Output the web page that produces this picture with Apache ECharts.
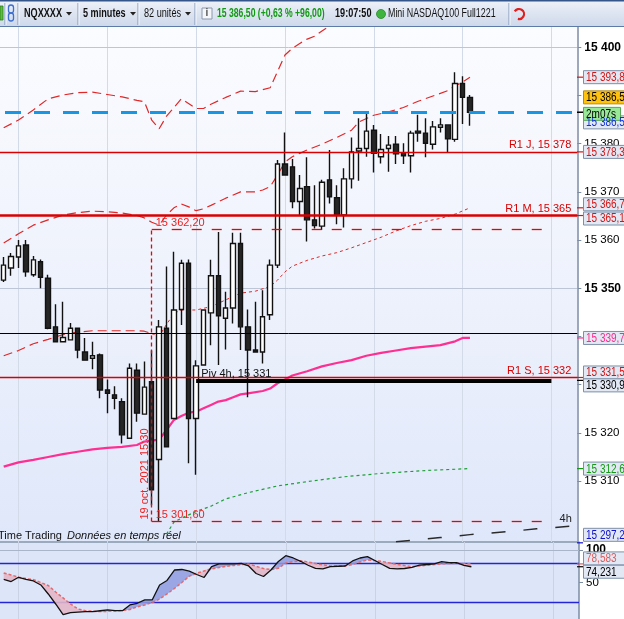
<!DOCTYPE html>
<html><head><meta charset="utf-8">
<script src="https://cdn.jsdelivr.net/npm/echarts@6/dist/echarts.min.js"></script>
<style>html,body{margin:0;padding:0;background:#fff}#c{width:624px;height:619px}</style>
</head><body><div id="c"></div>
<script>
// ---------- DATA ----------
const times = ['13:50','13:55','14:00','14:05','14:10','14:15','14:20','14:25','14:30','14:35','14:40','14:45','14:50','14:55',
 '15:00','15:05','15:10','15:15','15:20','15:25','15:30','15:35','15:40','15:45','15:50','15:55',
 '16:00','16:05','16:10','16:15','16:20','16:25','16:30','16:35','16:40','16:45','16:50','16:55',
 '17:00','17:05','17:10','17:15','17:20','17:25','17:30','17:35','17:40','17:45','17:50','17:55',
 '18:00','18:05','18:10','18:15','18:20','18:25','18:30','18:35','18:40','18:45','18:50','18:55',
 '19:00','19:05','19:10','19:15','19:20','19:25','19:30','19:35','19:40','19:45','19:50','19:55','20:00','20:05','20:10','20:15'];
const hourTicks = ['14:00','15:00','16:00','17:00','18:00','19:00','20:00'];
// [open, close, low, high]
const candles = [
 [15351.7,15354.8,15351.3,15356.5],[15354.2,15356.6,15352.6,15357.3],[15356.5,15358.8,15354.2,15360.0],[15359.0,15353.4,15352.4,15360.0],
 [15352.8,15355.9,15352.4,15356.7],[15355.5,15352.3,15350.0,15356.0],[15352.1,15341.7,15341.5,15352.8],[15342.0,15338.9,15338.9,15346.7],
 [15338.9,15339.8,15338.9,15347.2],[15339.3,15341.7,15339.3,15342.8],[15341.7,15337.2,15335.5,15341.8],[15336.8,15335.1,15335.1,15339.7],
 [15335.5,15336.0,15333.2,15338.9],[15336.2,15328.9,15327.2,15336.5],[15328.9,15328.2,15324.1,15331.1],[15327.9,15327.2,15324.9,15329.7],
 [15326.5,15319.6,15317.8,15327.2],[15318.9,15333.4,15318.9,15334.4],[15333.0,15324.1,15322.3,15334.4],[15323.9,15329.5,15323.9,15334.8],
 [15330.6,15308.2,15305.0,15337.1],[15314.5,15342.0,15301.6,15343.4],[15341.7,15317.1,15317.1,15354.5],[15323.0,15345.5,15323.0,15357.6],
 [15345.6,15355.2,15342.4,15355.9],[15355.2,15323.0,15313.7,15356.0],[15323.0,15333.9,15311.3,15335.1],[15334.1,15345.5,15334.1,15345.5],
 [15344.9,15352.6,15338.2,15355.9],[15352.6,15344.3,15334.1,15361.7],[15343.8,15345.9,15337.3,15349.3],[15345.9,15359.3,15342.7,15361.5],
 [15359.3,15342.0,15337.2,15361.5],[15342.0,15337.2,15327.4,15345.6],[15337.2,15336.8,15336.8,15347.2],[15336.8,15344.1,15334.4,15349.6],
 [15344.5,15354.8,15343.4,15356.0],[15354.8,15375.8,15354.2,15376.6],[15375.8,15373.5,15373.5,15382.3],[15375.2,15368.0,15366.6,15376.8],
 [15368.0,15370.7,15365.2,15373.5],[15371.1,15364.2,15359.7,15377.2],[15364.2,15363.0,15362.4,15371.4],[15362.9,15372.0,15362.1,15372.5],
 [15372.5,15369.0,15367.6,15378.7],[15368.8,15365.2,15363.3,15371.4],[15365.2,15372.7,15362.6,15374.9],[15372.7,15378.3,15370.7,15381.3],
 [15378.5,15379.0,15372.3,15385.3],[15379.0,15382.6,15377.3,15386.4],[15382.8,15378.0,15374.0,15383.9],[15377.3,15378.8,15375.9,15382.0],
 [15379.0,15379.7,15374.2,15381.6],[15379.9,15377.9,15375.8,15381.6],[15378.1,15377.5,15375.8,15380.1],[15377.5,15382.2,15374.0,15382.7],
 [15382.6,15382.2,15380.4,15386.0],[15382.2,15380.1,15377.2,15385.3],[15379.9,15383.5,15378.8,15384.7],[15383.4,15383.9,15382.3,15385.3],
 [15383.9,15381.0,15378.3,15383.9],[15380.9,15392.5,15380.4,15394.8],[15392.5,15389.6,15384.1,15394.0],[15389.6,15386.5,15383.7,15390.1]
];
const upperBand = [['13:50',15383.3],['14:00',15384.9],['14:10',15387.0],['14:20',15389.3],['14:30',15390.1],['14:40',15390.6],['14:50',15390.7],
 ['15:00',15390.2],['15:10',15389.7],['15:20',15389.0],['15:25',15388.7],['15:30',15384.9],['15:35',15383.1],['15:40',15385.7],['15:50',15389.3],
 ['16:00',15387.3],['16:05',15387.3],['16:10',15388.2],['16:20',15389.6],['16:30',15390.9],['16:40',15390.8],['16:50',15391.6],['16:55',15395.0],
 ['17:00',15398.4],['17:05',15399.8],['17:10',15400.8],['17:15',15401.7],['17:20',15402.3],['17:25',15403.4],['17:30',15404.4],['17:35',15405.2]];
const middleBand = [['13:50',15359.4],['14:00',15361.3],['14:10',15363.1],['14:20',15364.2],['14:30',15365.2],['14:40',15365.7],['14:50',15366.0],
 ['15:00',15365.9],['15:10',15365.6],['15:20',15365.1],['15:25',15364.6],['15:30',15363.7],['15:35',15363.1],['15:40',15365.2],['15:45',15366.7],
 ['15:50',15367.5],['15:55',15366.9],['16:00',15366.1],['16:05',15366.5],['16:10',15367.2],['16:20',15368.7],['16:30',15370.0],['16:40',15370.0],
 ['16:45',15370.4],['16:50',15371.1],['16:55',15373.5],['17:00',15376.2],['17:05',15377.3],['17:10',15378.0],['17:15',15378.7],['17:25',15379.9],
 ['17:35',15381.3],['17:45',15382.8],['17:50',15384.5],['18:00',15385.9],['18:10',15386.6],['18:20',15387.5],['18:30',15388.8],['18:40',15389.9],
 ['18:50',15391.0],['18:55',15392.0],['19:00',15392.8],['19:05',15393.8]];
const lowerBandOld = [['13:50',15336.0],['14:00',15337.1],['14:10',15338.5],['14:20',15339.4],['14:30',15340.4],['14:40',15340.9],['14:50',15341.2],
 ['15:00',15341.2],['15:10',15341.2],['15:20',15341.2],['15:25',15341.1],['15:30',15340.6]];
const lowerBandNew = [['15:30',15340.6],['15:35',15340.1],['15:40',15342.5],['15:45',15344.8],['15:50',15345.5],['16:00',15345.5],['16:10',15346.2],
 ['16:20',15347.6],['16:30',15349.0],['16:40',15349.4],['16:50',15350.4],['16:55',15351.7],['17:00',15353.4],['17:05',15354.6],['17:15',15355.8],
 ['17:25',15356.7],['17:35',15357.4],['17:45',15358.4],['17:55',15359.5],['18:05',15360.6],['18:15',15361.9],['18:25',15363.0],['18:35',15363.9],
 ['18:45',15364.5],['18:55',15365.4],['19:05',15366.7]];
const pinkMA = [['13:50',15313.0],['14:00',15313.9],['14:10',15314.4],['14:20',15315.0],['14:30',15315.6],['14:40',15316.1],['14:50',15316.6],
 ['15:00',15316.9],['15:10',15317.1],['15:20',15317.5],['15:25',15318.2],['15:30',15318.4],['15:35',15318.6],['15:40',15320.6],['15:45',15322.7],
 ['15:50',15323.5],['15:55',15324.2],['16:00',15324.4],['16:05',15325.1],['16:10',15325.8],['16:15',15326.5],['16:20',15326.8],['16:25',15327.4],
 ['16:30',15328.0],['16:35',15328.2],['16:45',15328.7],['16:50',15329.2],['16:55',15330.3],['17:00',15331.1],['17:05',15331.9],['17:15',15332.8],
 ['17:25',15333.8],['17:35',15334.5],['17:45',15335.1],['17:55',15336.0],['18:05',15336.6],['18:15',15337.1],['18:25',15337.6],['18:35',15337.9],
 ['18:45',15338.2],['18:55',15339.0],['19:00',15339.7],['19:05',15339.7]];
const greenMA = [['15:40',15299.0],['15:45',15301.5],['15:50',15302.3],['16:00',15303.7],['16:10',15304.8],['16:20',15306.3],['16:35',15307.6],
 ['16:55',15309.0],['17:15',15309.9],['17:40',15310.9],['18:05',15311.6],['18:35',15312.2],['19:05',15312.6]];
const line4h = [['18:15',15297.4],['18:45',15298.3],['19:05',15298.9],['19:30',15299.5],['19:50',15300.1],['20:15',15300.7]];
const kValues = [54.9,51.5,58.0,54.9,52.3,46.2,32.3,16.9,0.5,3.5,4.5,5.1,5.1,6.5,7.7,6.6,6.6,15.4,18.0,23.1,23.1,46.2,53.1,69.2,70.0,67.4,
 62.3,57.7,74.3,78.5,78.5,78.5,79.5,75.4,63.8,59.2,69.2,82.3,91.2,87.7,82.6,76.5,71.8,70.8,74.3,75.0,75.4,83.1,87.7,89.7,83.8,77.7,
 71.8,70.8,71.5,73.4,76.6,77.7,78.5,82.0,80.5,80.5,76.5,74.2];
const dValues = [64.6,61.5,58.2,56.0,54.3,50.0,45.4,35.4,26.2,16.9,9.2,6.6,5.8,5.2,5.6,6.3,7.0,8.5,12.6,15.4,19.2,24.6,32.3,40.8,50.0,59.7,
 64.3,67.7,70.8,73.0,74.9,76.3,77.5,78.5,74.9,71.4,70.0,71.8,80.0,82.0,83.5,81.5,79.2,77.0,75.4,75.4,75.4,77.7,81.5,84.6,83.5,82.3,
 80.0,77.7,76.0,74.5,75.5,76.5,77.5,78.8,79.2,79.5,79.0,78.6];
const levels = [{name:'R1 J', value:15378.3, width:1.3},{name:'R1 M', value:15365.1, width:2.6},{name:'R1 S', value:15331.5, width:1.3}];
const pivot = {name:'Piv 4h', value:15330.9, from:'16:00', to:'20:00'};
const box = {high:15362.2, low:15301.6, from:'15:30', to:'20:00', date:'19 oct. 2021 15:30'};
const refLevel = 15340.7;
const lastPrice = 15386.5;
const lowTag = 15297.2;
const yTicks = [15310,15320,15330,15340,15350,15360,15370,15380,15390,15400];
const indTicks = [50,100];
const indLevels = [80,20];
const lastK = 74.231, lastD = 78.583;

// ---------- HELPERS ----------
const FONT = '"Liberation Sans", Arial, sans-serif';
const sp = s => s.replace(/\B(?=(\d{3})+(?!\d))/g,' ');
const fmtDec = (v,d) => { const p = v.toFixed(d).split('.'); return sp(p[0]) + (p[1] ? ','+p[1] : ''); };
const RED = '#d80000';

const chart = echarts.init(document.getElementById('c'), null, {width:624, height:619});

const mainGridMarks = {
  silent:true, symbol:'none', z:1, animation:false, label:{show:false},
  data: hourTicks.map(t=>({xAxis:t, lineStyle:{color:'#d3dae8', width:1, type:'solid'}}))
    .concat([{yAxis:15400, lineStyle:{color:'#bcc6d6', width:1, type:'solid'}},{yAxis:15350, lineStyle:{color:'#bcc6d6', width:1, type:'solid'}}])
};
const lvlLabel = (txt, pos, dist, color) => ({show:true, position:pos, formatter:txt, color:color||RED, fontSize:11, fontFamily:FONT, distance:dist});

const levelMarks = {
  silent:true, symbol:'none', z:5, animation:false,
  data: [
    ...levels.map(l=>({yAxis:l.value, lineStyle:{color:RED, width:l.width, type:'solid'},
        label:lvlLabel(l.name+', '+sp(Math.round(l.value).toString()), 'insideEndTop', [6,1])})),
    {yAxis:refLevel, lineStyle:{color:'#000', width:1, type:'solid'}, label:{show:false}},
    {yAxis:lastPrice, lineStyle:{color:'#1596e6', width:3, type:[16,13], dashOffset:-5}, label:{show:false}},
    [{coord:[pivot.from,pivot.value], lineStyle:{color:'#000', width:4, type:'solid'},
       label:lvlLabel(pivot.name+', '+sp(Math.round(pivot.value).toString()), 'insideStartTop', [5,1], '#111')},
     {coord:[pivot.to,pivot.value]}],
    [{coord:[box.from,box.high], lineStyle:{color:'#f00000', width:1.3, type:[10,10]},
       label:lvlLabel(fmtDec(box.high,2), 'insideStartTop', [4,1], '#f02020')},
     {coord:[box.to,box.high]}],
    [{coord:[box.from,box.low], lineStyle:{color:'#f00000', width:1.3, type:[10,10]},
       label:lvlLabel(fmtDec(box.low,2), 'insideStartTop', [4,1], '#f02020')},
     {coord:[box.to,box.low]}],
    [{coord:[box.from,box.low], lineStyle:{color:'#f00000', width:1.3, type:[4,3]},
       label:lvlLabel(box.date, 'insideStartTop', [2,1], '#f02020')},
     {coord:[box.from,box.high]}]
  ]
};

const base = kValues.map((k,i)=>Math.min(k,dValues[i]));
const upFill = kValues.map((k,i)=>Math.max(k-dValues[i],0));
const dnFill = kValues.map((k,i)=>Math.max(dValues[i]-k,0));

const lineS = (name, data, color, width, type, z, extra) => Object.assign({
  type:'line', name, data, xAxisIndex:0, yAxisIndex:0, showSymbol:false, symbol:'none', silent:true, z:z||3,
  lineStyle:{color, width, type}, animation:false
}, extra||{});

const option = {
  animation:false,
  backgroundColor:'#ffffff',
  textStyle:{fontFamily:FONT},
  grid:[
    {left:-2, right:45, top:27, bottom:77, show:true, borderWidth:0,
     backgroundColor:new echarts.graphic.LinearGradient(0,0,0,1,[{offset:0,color:'#fbfcff'},{offset:0.5,color:'#eef2fc'},{offset:1,color:'#dfe7fa'}])},
    {left:-2, right:45, top:542, bottom:0, show:true, borderWidth:0, backgroundColor:'#dde5f9'}
  ],
  xAxis:[
    {type:'category', data:times, gridIndex:0, boundaryGap:true, axisLabel:{show:false}, axisTick:{show:false},
     axisLine:{show:true, lineStyle:{color:'#8797ab', width:1.5}}, splitLine:{show:false}},
    {type:'category', data:times, gridIndex:1, boundaryGap:true, axisLabel:{show:false}, axisTick:{show:false},
     axisLine:{show:false}, splitLine:{show:false}}
  ],
  yAxis:[
    {type:'value', gridIndex:0, position:'right', min:15297.37, max:15404.21, scale:true,
     axisLine:{show:true, lineStyle:{color:'#7d8da3', width:1.5}},
     axisTick:{show:true, length:4, lineStyle:{color:'#7d8da3'}, customValues:yTicks},
     axisLabel:{show:true, margin:7, color:'#000', fontSize:11.5, fontFamily:FONT, customValues:yTicks,
       formatter:v=>{ const t = sp(String(Math.round(v))); return (v%50===0) ? '{b|'+t+'}' : t; },
       rich:{b:{fontWeight:'bold', fontSize:12, color:'#000', fontFamily:FONT}}},
     splitLine:{show:false}},
    {type:'value', gridIndex:1, position:'right', min:-6.2, max:112.3,
     axisLine:{show:true, lineStyle:{color:'#7d8da3', width:1.5}},
     axisTick:{show:true, length:4, lineStyle:{color:'#7d8da3'}, customValues:indTicks},
     axisLabel:{show:true, margin:7, color:'#000', fontSize:11.5, fontFamily:FONT, customValues:indTicks,
       formatter:v=> v===100 ? '{b|100}' : String(v), rich:{b:{fontWeight:'bold', fontSize:12, color:'#000'}}},
     splitLine:{show:false}}
  ],
  series:[
    lineS('grid', [[times[0],15350]], 'rgba(0,0,0,0)', 0, 'solid', 1, {markLine:mainGridMarks}),
    lineS('upper', upperBand, '#e02828', 1.2, [9,5], 3),
    lineS('middle', middleBand, '#e02828', 1.2, [9,5], 3),
    lineS('lowerOld', lowerBandOld, '#e02828', 1.2, [9,5], 3),
    lineS('lowerNew', lowerBandNew, '#e02828', 1, [3,3], 3),
    lineS('green', greenMA, '#1f9e3a', 1.2, [3,3], 3),
    lineS('pink', pinkMA, '#ff2f92', 2.2, 'solid', 3),
    lineS('4h', line4h, '#2a2a2a', 1.5, [14,18], 3, {endLabel:{show:true, formatter:'4h', color:'#222', fontSize:11, fontFamily:FONT, offset:[-22,-7]}}),
    {type:'candlestick', name:'NQ', data:candles, xAxisIndex:0, yAxisIndex:0, barWidth:5, z:4, silent:true, animation:false,
     itemStyle:{color:'#ffffff', color0:'#262626', borderColor:'#111111', borderColor0:'#111111', borderWidth:1.4},
     markLine:levelMarks},
    // indicator panel
    {type:'line', name:'base', data:base, xAxisIndex:1, yAxisIndex:1, stack:'fill', symbol:'none', silent:true, z:2,
     lineStyle:{opacity:0, width:0},
     markLine:{silent:true, symbol:'none', z:1, label:{show:false},
       data: hourTicks.map(t=>({xAxis:t, lineStyle:{color:'#cad3e6', width:1, type:'solid'}}))
        .concat([{yAxis:100, lineStyle:{color:'#a9b5c8', width:1, type:'solid'}}])
        .concat(indLevels.map(v=>({yAxis:v, lineStyle:{color:'#2424d8', width:1.4, type:'solid'}})))}},
    {type:'line', name:'up', data:upFill, xAxisIndex:1, yAxisIndex:1, stack:'fill', symbol:'none', silent:true, z:2,
     lineStyle:{opacity:0, width:0}, areaStyle:{color:'#8f9be0', opacity:0.85}},
    {type:'line', name:'down', data:dnFill, xAxisIndex:1, yAxisIndex:1, stack:'fill', symbol:'none', silent:true, z:2,
     lineStyle:{opacity:0, width:0}, areaStyle:{color:'#e2b6c8', opacity:0.9}},
    {type:'line', name:'D', data:dValues, xAxisIndex:1, yAxisIndex:1, symbol:'none', silent:true, z:3,
     lineStyle:{color:'#e56b6b', width:1.5, type:[3,2]}},
    {type:'line', name:'K', data:kValues, xAxisIndex:1, yAxisIndex:1, symbol:'none', silent:true, z:4,
     lineStyle:{color:'#111111', width:1.3}}
  ]
};
chart.setOption(option);

// ---------- overlays: toolbar + price tags ----------
const yM = v => chart.convertToPixel({yAxisIndex:0}, v);
const yI = v => chart.convertToPixel({yAxisIndex:1}, v);
const lastOf = a => a[a.length-1][1];

const tagSpecs = [
  {y:yM(lastPrice), dy:10, text:fmtDec(lastPrice,1), color:'#1030d8'},
  {y:yM(lastOf(middleBand)), dy:0, text:fmtDec(lastOf(middleBand),1), color:'#d31515'},
  {y:yM(lastPrice), dy:-15, text:fmtDec(lastPrice,1), color:'#000', bg:'#ffc20e', stroke:'#b08a20'},
  {y:yM(lastPrice), dy:1.5, text:'2m07s', color:'#000', bg:'#98e898', stroke:'#5aa65a', w:37},
  {y:yM(levels[0].value), dy:0, text:fmtDec(levels[0].value,1), color:'#d31515'},
  {y:yM(lastOf(lowerBandNew)), dy:-3.5, text:fmtDec(lastOf(lowerBandNew),1), color:'#d31515'},
  {y:yM(levels[1].value), dy:3, text:fmtDec(levels[1].value,1), color:'#d31515'},
  {y:yM(lastOf(pinkMA)), dy:0, text:fmtDec(lastOf(pinkMA),1), color:'#ff2a8a'},
  {y:yM(levels[2].value), dy:-5, text:fmtDec(levels[2].value,1), color:'#d31515'},
  {y:yM(pivot.value), dy:5, text:fmtDec(pivot.value,1), color:'#000'},
  {y:yM(lastOf(greenMA)), dy:0, text:fmtDec(lastOf(greenMA),1), color:'#139a13'},
  {y:yM(lowTag), dy:-8, text:fmtDec(lowTag,1), color:'#1010d0'},
  {y:yI(lastD), dy:-5.5, text:fmtDec(lastD,3), color:'#e05a5a'},
  {y:yI(lastK), dy:5, text:fmtDec(lastK,3), color:'#000'}
];
const g = [];
tagSpecs.forEach(t=>{
  const cy = t.y + t.dy;
  g.push({type:'line', z:99, shape:{x1:577, y1:t.y, x2:583, y2:t.y}, style:{stroke:t.color, lineWidth:1.2}});
  g.push({type:'rect', z:100, shape:{x:583.5, y:cy-6.5, width:t.w||50, height:13}, style:{fill:t.bg||'#e3e9f4', stroke:t.stroke||'#7d8fa8', lineWidth:1}});
  g.push({type:'text', z:101, x:586, y:cy+0.5, scaleX:0.8, style:{text:t.text, fill:t.color, font:'12.5px '+FONT, verticalAlign:'middle'}});
});
// footer text on chart
g.push({type:'text', z:20, x:-2, y:536, style:{text:'Time Trading', fill:'#111', font:'11px '+FONT, verticalAlign:'middle'}});
g.push({type:'text', z:20, x:67, y:536, style:{text:'Données en temps réel', fill:'#111', font:'italic 11px '+FONT, verticalAlign:'middle'}});

// toolbar
const TB = [];
TB.push({type:'rect', z:50, shape:{x:0,y:0,width:624,height:26.5}, style:{fill:new echarts.graphic.LinearGradient(0,0,0,1,[{offset:0,color:'#eef2f9'},{offset:1,color:'#cdd8ea'}])}});
TB.push({type:'line', z:51, shape:{x1:0,y1:0.75,x2:624,y2:0.75}, style:{stroke:'#34558a', lineWidth:1.5}});
TB.push({type:'line', z:51, shape:{x1:0,y1:26.5,x2:624,y2:26.5}, style:{stroke:'#5e7aa6', lineWidth:1}});
[5,18,78,138,195,509].forEach(x=>{
  TB.push({type:'line', z:51, shape:{x1:x,y1:3,x2:x,y2:25}, style:{stroke:'#8196b8', lineWidth:1}});
  TB.push({type:'line', z:51, shape:{x1:x+1,y1:3,x2:x+1,y2:25}, style:{stroke:'#f6f8fc', lineWidth:1}});
});
TB.push({type:'rect', z:52, shape:{x:0,y:6,width:3,height:14}, style:{fill:'#5cbf3a', stroke:'#2f7f1f', lineWidth:0.8}});
TB.push({type:'rect', z:52, shape:{x:8.5,y:5,width:5,height:8,r:2.5}, style:{fill:'none', stroke:'#3c6fd0', lineWidth:1.3}});
TB.push({type:'rect', z:52, shape:{x:8.5,y:13,width:5,height:8,r:2.5}, style:{fill:'none', stroke:'#3c6fd0', lineWidth:1.3}});
const tbText = (x, text, weight, color, sx) => ({type:'text', z:53, x, y:14, scaleX:sx||0.76,
  style:{text, fill:color||'#111', font:(weight?'bold ':'')+'12px '+FONT, verticalAlign:'middle'}});
const tri = x => ({type:'polygon', z:53, shape:{points:[[x,12],[x+6,12],[x+3,15.5]]}, style:{fill:'#222'}});
TB.push(tbText(24,'NQXXXX',true), tri(66));
TB.push(tbText(83,'5 minutes',true), tri(130));
TB.push(tbText(144,'82 unités',false), tri(185));
TB.push({type:'rect', z:53, shape:{x:202,y:8,width:10,height:11}, style:{fill:'#f4f6fa', stroke:'#8a98ae', lineWidth:1}});
TB.push({type:'text', z:54, x:205.5, y:13.5, style:{text:'i', fill:'#555', font:'bold 10px '+FONT, verticalAlign:'middle'}});
TB.push(tbText(217, fmtDec(lastPrice,2)+' (+0,63 % +96,00)', true, '#129a12', 0.72));
TB.push(tbText(335, '19:07:50', true, '#111'));
TB.push({type:'circle', z:53, shape:{cx:381, cy:14, r:4.5}, style:{fill:'#3fb53f', stroke:'#2a8a2a', lineWidth:0.8}});
TB.push(tbText(388, 'Mini NASDAQ100 Full1221', false, '#111', 0.74));
TB.push({type:'arc', z:53, shape:{cx:519, cy:14, r:5, startAngle:-2.6, endAngle:1.8}, style:{stroke:'#e02020', lineWidth:2.2, fill:'none'}});

chart.setOption({graphic: g.concat(TB)});
</script>
</body></html>
